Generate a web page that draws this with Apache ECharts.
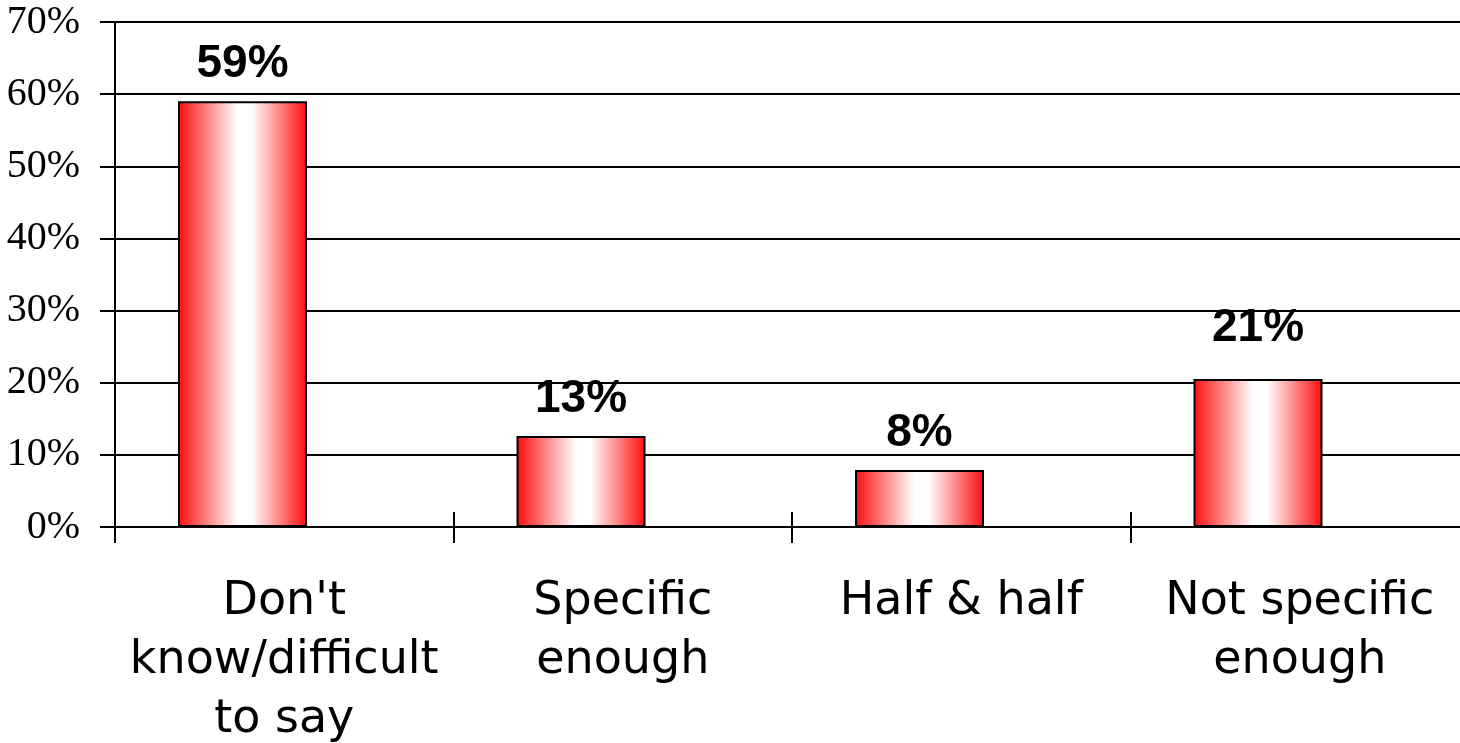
<!DOCTYPE html>
<html><head><meta charset="utf-8">
<script src="https://cdn.jsdelivr.net/npm/echarts@6/dist/echarts.min.js"></script>
<style>html,body{margin:0;padding:0;background:#fff}#c{width:1460px;height:743px}</style>
</head><body><div id="c"></div>
<script>
const categories = ["Don't\nknow/difficult\nto say", "Specific\nenough", "Half & half", "Not specific\nenough"];
const values = [59, 12.6, 7.9, 20.5];
const yTicks = [0, 10, 20, 30, 40, 50, 60, 70];

const chart = echarts.init(document.getElementById('c'), null, {renderer: 'canvas'});
const grad = new echarts.graphic.LinearGradient(0, 0, 1, 0, [
  {offset: 0, color: '#ff0c0c'},
  {offset: 0.46, color: '#ffffff'},
  {offset: 0.57, color: '#ffffff'},
  {offset: 1, color: '#ff0c0c'}
]);
chart.setOption({
  animation: false,
  grid: {left: 115, width: 1354, top: 22, bottom: 216, containLabel: false, outerBoundsMode: 'none'},
  xAxis: [{
    type: 'category', data: categories, boundaryGap: true,
    axisLine: {lineStyle: {color: '#000', width: 2}},
    axisTick: {show: true, length: 16, interval: 0, lineStyle: {color: '#000', width: 2}},
    axisLabel: {interval: 0, margin: 46, color: '#000', fontFamily: 'DejaVu Sans', fontSize: 46, lineHeight: 59, verticalAlign: 'top'}
  }, {
    type: 'category', data: categories, boundaryGap: true, position: 'bottom',
    axisLine: {show: false},
    axisTick: {show: true, inside: true, length: 15, interval: 0, lineStyle: {color: '#000', width: 2}},
    axisLabel: {show: false}
  }],
  yAxis: {
    type: 'value', min: yTicks[0], max: yTicks[yTicks.length - 1], interval: 10,
    axisLine: {show: true, lineStyle: {color: '#000', width: 2}},
    axisTick: {show: true, length: 15, lineStyle: {color: '#000', width: 2}},
    splitLine: {show: true, lineStyle: {color: '#000', width: 2}},
    axisLabel: {formatter: '{value}%', margin: 35, color: '#000', fontFamily: 'Liberation Serif', fontSize: 40}
  },
  series: [{
    type: 'bar', xAxisIndex: 0,
    data: values.map((v, i) => ({value: v, label: {distance: i === 3 ? 28 : 14}})),
    barWidth: 129, barGap: '-35.3%',
    itemStyle: {color: grad, borderColor: '#000', borderWidth: 2},
    label: {show: true, position: 'top', formatter: p => Math.round(p.value) + '%', color: '#000', fontFamily: 'Liberation Sans', fontWeight: 'bold', fontSize: 46}
  }, {
    type: 'bar', xAxisIndex: 0,
    data: values.map(() => null),
    barWidth: 129
  }]
});
</script></body></html>
